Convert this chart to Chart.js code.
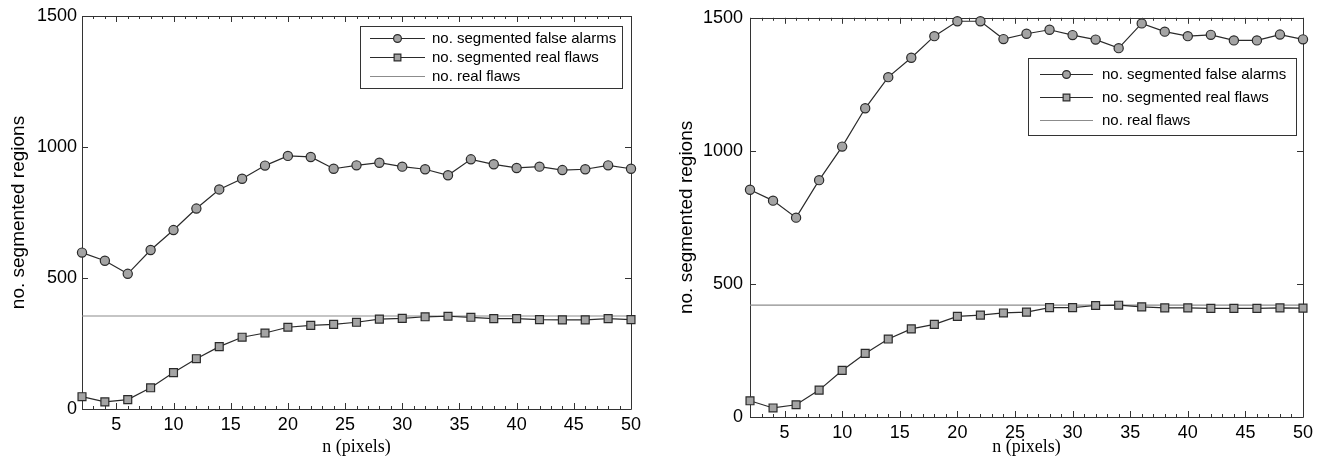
<!DOCTYPE html>
<html>
<head>
<meta charset="utf-8">
<script src="https://cdn.jsdelivr.net/npm/chart.js@4.4.1/dist/chart.umd.min.js"></script>
<style>
  html, body { margin: 0; padding: 0; background: #fff; }
  #wrap { position: relative; width: 1322px; height: 465px; }
  canvas { position: absolute; top: 0; }
</style>
</head>
<body>
<div id="wrap">
  <canvas id="leftChart" width="661" height="465" style="left:0"></canvas>
  <canvas id="rightChart" width="661" height="465" style="left:661px"></canvas>
</div>
<script>
// n (pixels) values shared by both panels
const nValues = [2, 4, 6, 8, 10, 12, 14, 16, 18, 20, 22, 24, 26, 28, 30, 32, 34, 36, 38, 40, 42, 44, 46, 48, 50];
const xTickLabels = [5, 10, 15, 20, 25, 30, 35, 40, 45, 50];
const yTickValues = [0, 500, 1000, 1500];
const legendLabels = ['no. segmented false alarms', 'no. segmented real flaws', 'no. real flaws'];

// left panel
const leftFalseAlarms = [597, 566, 516, 607, 683, 765, 838, 879, 929, 966, 962, 917, 930, 940, 925, 915, 892, 953, 934, 920, 925, 912, 915, 930, 917];
const leftRealSegmented = [47, 27, 36, 81, 139, 192, 238, 274, 290, 312, 319, 323, 331, 343, 346, 352, 354, 350, 345, 345, 341, 340, 340, 345, 341];
const leftRealFlaws = 355;

// right panel
const rightFalseAlarms = [854, 813, 749, 890, 1016, 1160, 1277, 1350, 1431, 1487, 1487, 1420, 1440, 1455, 1435, 1418, 1386, 1479, 1448, 1431, 1436, 1415, 1415, 1437, 1419];
const rightRealSegmented = [61, 34, 46, 101, 175, 239, 293, 331, 348, 378, 383, 391, 394, 411, 411, 419, 420, 414, 410, 410, 408, 408, 408, 410, 409];
const rightRealFlaws = 420;

const sans = 'Liberation Sans, Arial, Helvetica, sans-serif';
const serif = 'Liberation Serif, Times New Roman, serif';
const lineColor = '#2a2a2a';
const markerFill = '#a4a4a4';

// box with inward ticks, matlab style
const framePlugin = {
  id: 'frame',
  beforeDatasetsDraw(chart) {
    const { ctx, chartArea: a, scales: { x, y } } = chart;
    ctx.save();
    ctx.strokeStyle = '#333';
    ctx.lineWidth = 1;
    ctx.beginPath();
    ctx.rect(Math.round(a.left) + 0.5, Math.round(a.top) + 0.5, Math.round(a.right - a.left), Math.round(a.bottom - a.top));
    for (let v = Math.ceil(x.min); v <= x.max; v++) {
      const px = Math.round(x.getPixelForValue(v)) + 0.5;
      const len = v % 5 === 0 ? 6 : 3;
      ctx.moveTo(px, a.bottom); ctx.lineTo(px, a.bottom - len);
      ctx.moveTo(px, a.top); ctx.lineTo(px, a.top + len);
    }
    y.ticks.forEach(t => {
      const py = Math.round(y.getPixelForValue(t.value)) + 0.5;
      ctx.moveTo(a.left, py); ctx.lineTo(a.left + 6, py);
      ctx.moveTo(a.right, py); ctx.lineTo(a.right - 6, py);
    });
    ctx.stroke();
    ctx.restore();
  }
};

// legend inside a bordered box
const boxLegend = {
  id: 'boxLegend',
  afterDraw(chart, args, o) {
    const ctx = chart.ctx;
    ctx.save();
    ctx.fillStyle = '#fff';
    ctx.fillRect(o.left, o.top, o.width, o.height);
    ctx.strokeStyle = '#333';
    ctx.lineWidth = 1;
    ctx.strokeRect(o.left + 0.5, o.top + 0.5, o.width, o.height);
    ctx.font = '15px ' + sans;
    ctx.textBaseline = 'middle';
    chart.data.datasets.forEach((ds, i) => {
      const yy = Math.round(o.top + o.firstRow + i * o.rowGap) + 0.5;
      const x0 = o.left + o.sampleLeft;
      const x1 = x0 + o.sampleWidth;
      ctx.strokeStyle = ds.borderColor;
      ctx.lineWidth = ds.borderWidth;
      ctx.beginPath();
      ctx.moveTo(x0, yy); ctx.lineTo(x1, yy);
      ctx.stroke();
      if (ds.pointRadius > 0) {
        ctx.fillStyle = ds.pointBackgroundColor;
        ctx.strokeStyle = ds.pointBorderColor;
        ctx.lineWidth = ds.pointBorderWidth;
        Chart.helpers.drawPoint(ctx, { pointStyle: ds.pointStyle, radius: ds.pointRadius * 0.85, borderWidth: ds.pointBorderWidth, rotation: 0 }, (x0 + x1) / 2, yy);
      }
      ctx.fillStyle = '#000';
      ctx.fillText(ds.label, o.left + o.textLeft, yy);
    });
    ctx.restore();
  }
};

function toPoints(values) {
  return values.map((v, i) => ({ x: nValues[i], y: v }));
}

function makeChart(id, falseAlarms, realSegmented, realFlaws, lay) {
  new Chart(document.getElementById(id), {
    type: 'line',
    data: {
      datasets: [{
        label: legendLabels[0],
        data: toPoints(falseAlarms),
        borderColor: lineColor,
        borderWidth: 1.2,
        pointStyle: 'circle',
        pointRadius: 4.6,
        pointBackgroundColor: markerFill,
        pointBorderColor: lineColor,
        pointBorderWidth: 1.2,
        clip: false
      }, {
        label: legendLabels[1],
        data: toPoints(realSegmented),
        borderColor: lineColor,
        borderWidth: 1.2,
        pointStyle: 'rect',
        pointRadius: 5.6,
        pointBackgroundColor: markerFill,
        pointBorderColor: lineColor,
        pointBorderWidth: 1.2,
        clip: false
      }, {
        label: legendLabels[2],
        data: [{ x: nValues[0], y: realFlaws }, { x: nValues[nValues.length - 1], y: realFlaws }],
        borderColor: '#8c8c8c',
        borderWidth: 1.2,
        pointRadius: 0,
        clip: false
      }]
    },
    options: {
      responsive: false,
      animation: false,
      devicePixelRatio: 1,
      layout: { padding: { top: lay.top, right: lay.right, left: 0, bottom: 0 } },
      plugins: {
        legend: { display: false },
        tooltip: { enabled: false },
        boxLegend: lay.legend
      },
      scales: {
        x: {
          type: 'linear',
          min: nValues[0],
          max: nValues[nValues.length - 1],
          afterBuildTicks: s => { s.ticks = xTickLabels.map(v => ({ value: v })); },
          afterFit: s => { s.height = lay.xHeight; },
          grid: { display: false, drawTicks: false },
          border: { display: false },
          ticks: { color: '#000', padding: 5, font: { family: sans, size: 18 }, callback: v => String(v) },
          title: {
            display: true, text: 'n (pixels)', color: '#000',
            font: { family: serif, size: 18 }, padding: { top: 0, bottom: 7 }
          }
        },
        y: {
          min: yTickValues[0],
          max: yTickValues[yTickValues.length - 1],
          afterBuildTicks: s => { s.ticks = yTickValues.map(v => ({ value: v })); },
          afterFit: s => { s.width = lay.yWidth; },
          grid: { display: false, drawTicks: false },
          border: { display: false },
          ticks: { color: '#000', padding: lay.yPad, font: { family: sans, size: 18 }, callback: v => String(v) },
          title: {
            display: true, text: 'no. segmented regions', color: '#000',
            font: { family: sans, size: 19 }, padding: { top: lay.yTitlePad, bottom: 0 }
          }
        }
      }
    },
    plugins: [framePlugin, boxLegend]
  });
}

window.onload = function () {
  makeChart('leftChart', leftFalseAlarms, leftRealSegmented, leftRealFlaws, {
    top: 16, right: 30, xHeight: 56, yWidth: 82, yPad: 5, yTitlePad: 7,
    legend: { left: 360, top: 26, width: 262, height: 62, firstRow: 12.3, rowGap: 19, sampleLeft: 10, sampleWidth: 55, textLeft: 72 }
  });
  makeChart('rightChart', rightFalseAlarms, rightRealSegmented, rightRealFlaws, {
    top: 17, right: 19, xHeight: 48, yWidth: 89, yPad: 7, yTitlePad: 14,
    legend: { left: 367, top: 58, width: 268, height: 77, firstRow: 16, rowGap: 23, sampleLeft: 12, sampleWidth: 53, textLeft: 74 }
  });
};
</script>
</body>
</html>
